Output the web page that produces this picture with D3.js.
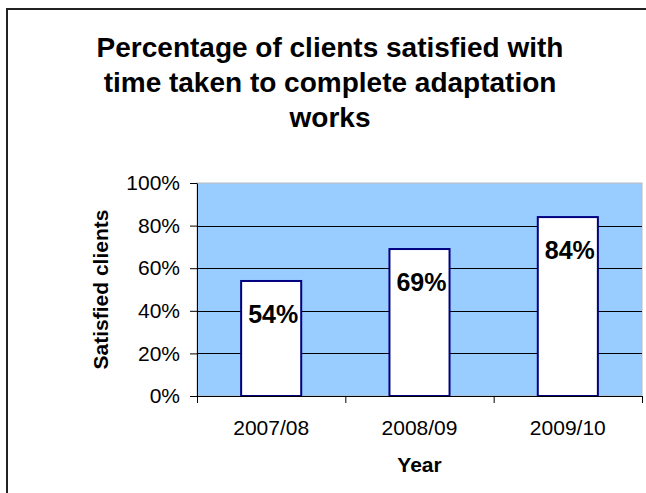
<!DOCTYPE html>
<html><head><meta charset="utf-8">
<script src="https://cdn.jsdelivr.net/npm/d3@7"></script>
<style>body{margin:0;background:#fff}svg{display:block}</style>
</head><body>
<script>
const categories = ["2007/08", "2008/09", "2009/10"];
const values = [54, 69, 84];
const yTicks = [0, 20, 40, 60, 80, 100];
const titleLines = ["Percentage of clients satisfied with", "time taken to complete adaptation", "works"];

const W = 646, H = 493;
const svg = d3.select("body").append("svg").attr("width", W).attr("height", H);
const font = "Arial, 'Liberation Sans', sans-serif";

svg.append("rect").attr("x", 7).attr("y", 9).attr("width", 700).attr("height", 600)
  .attr("fill", "#fff").attr("stroke", "#222").attr("stroke-width", 2);

const L = 197, R = 642, T = 183, B = 396;
const x = d3.scaleBand().domain(categories).range([L, R]).paddingInner(0.595).paddingOuter(0.2975);
const y = d3.scaleLinear().domain([0, 100]).range([B, T]);

svg.append("rect").attr("x", L).attr("y", T).attr("width", R - L).attr("height", B - T)
  .attr("fill", "#99ccff").attr("stroke", "#bbbbbb").attr("stroke-width", 1);

svg.append("g").selectAll("line").data(yTicks.slice(1, -1)).join("line")
  .attr("x1", L).attr("x2", R).attr("y1", d => Math.round(y(d)) + 0.5).attr("y2", d => Math.round(y(d)) + 0.5)
  .attr("stroke", "#000").attr("stroke-width", 1);

svg.append("g").selectAll("rect").data(values).join("rect")
  .attr("x", (d, i) => x(categories[i])).attr("width", x.bandwidth())
  .attr("y", d => y(d)).attr("height", d => B - y(d))
  .attr("fill", "#fff").attr("stroke", "#000080").attr("stroke-width", 2);

svg.append("g").selectAll("text").data(values).join("text")
  .attr("x", (d, i) => x(categories[i]) + x.bandwidth() / 2 + 2)
  .attr("y", d => y(d) + 42)
  .attr("text-anchor", "middle").attr("font-family", font).attr("font-weight", "bold")
  .attr("font-size", 25).attr("fill", "#000").text(d => d + "%");

const yAxis = svg.append("g").attr("transform", `translate(${L},0)`)
  .call(d3.axisLeft(y).tickValues(yTicks).tickFormat(d => d + "%").tickSize(7).tickSizeOuter(0));
yAxis.select(".domain").attr("stroke", "#000");
yAxis.selectAll(".tick line").attr("stroke", "#000");
yAxis.selectAll("text").attr("font-family", font).attr("font-size", 21).attr("fill", "#000").attr("dx", -7);

const xAxis = svg.append("g").attr("transform", `translate(0,${B})`);
xAxis.append("line").attr("x1", L).attr("x2", R).attr("y1", 0.5).attr("y2", 0.5).attr("stroke", "#000");
xAxis.selectAll("line.t").data(d3.range(categories.length + 1)).join("line").attr("class", "t")
  .attr("x1", i => L + i * (R - L) / categories.length + 0.5).attr("x2", i => L + i * (R - L) / categories.length + 0.5)
  .attr("y1", 0).attr("y2", 7).attr("stroke", "#000");
xAxis.selectAll("text").data(categories).join("text")
  .attr("x", d => x(d) + x.bandwidth() / 2).attr("y", 39)
  .attr("text-anchor", "middle").attr("font-family", font).attr("font-size", 21).attr("fill", "#000").text(d => d);

svg.append("text").attr("x", (L + R) / 2).attr("y", 472).attr("text-anchor", "middle")
  .attr("font-family", font).attr("font-weight", "bold").attr("font-size", 21).text("Year");

svg.append("text").attr("transform", `translate(108,${(T + B) / 2}) rotate(-90)`).attr("text-anchor", "middle")
  .attr("font-family", font).attr("font-weight", "bold").attr("font-size", 21).text("Satisfied clients");

svg.append("g").selectAll("text").data(titleLines).join("text")
  .attr("x", 330).attr("y", (d, i) => 57 + i * 35).attr("text-anchor", "middle")
  .attr("font-family", font).attr("font-weight", "bold").attr("font-size", 28).attr("fill", "#000").text(d => d);
</script>
</body></html>
